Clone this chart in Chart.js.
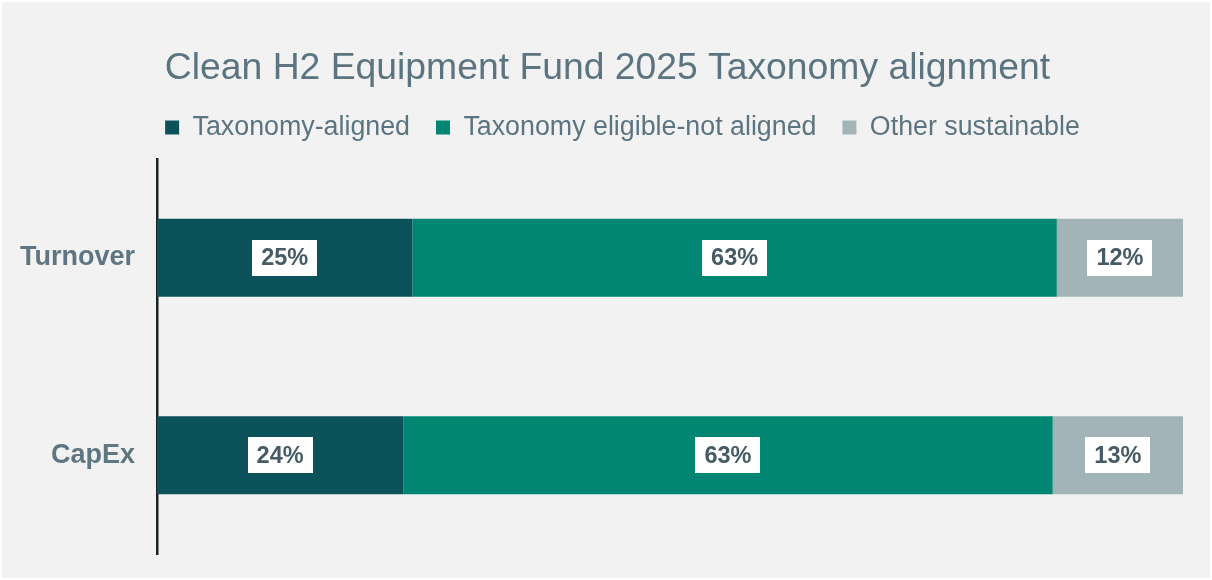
<!DOCTYPE html>
<html>
<head>
<meta charset="utf-8">
<script src="https://cdn.jsdelivr.net/npm/chart.js@4/dist/chart.umd.min.js"></script>
<style>
  html, body { margin: 0; padding: 0; background: #ffffff; }
  #wrap { position: absolute; left: 2px; top: 2px; width: 1208px; height: 576px; background: #f2f2f2; }
</style>
</head>
<body>
<div id="wrap"><canvas id="grafico" width="1208" height="576"></canvas></div>
<script>
const categorias = ["Turnover", "CapEx"];
const series = ["Taxonomy-aligned", "Taxonomy eligible-not aligned", "Other sustainable"];
const alineado = [24.9, 24.0];
const elegible = [62.8, 63.3];
const otro = [12.3, 12.7];
const colores = ["#0b525a", "#008673", "#a2b4b8"];

const textoGris = "#5b7480";

// etiquetas blancas con el porcentaje en el centro de cada tramo
const etiquetas = {
  id: "etiquetas",
  afterDatasetsDraw(chart) {
    const ctx = chart.ctx;
    ctx.save();
    ctx.font = "bold 23.5px Arial, 'Liberation Sans', sans-serif";
    ctx.textAlign = "center";
    ctx.textBaseline = "middle";
    chart.data.datasets.forEach((ds, i) => {
      chart.getDatasetMeta(i).data.forEach((bar, j) => {
        const txt = Math.round(ds.data[j]) + "%";
        const x = (bar.x + bar.base) / 2;
        const y = bar.y;
        const w = ctx.measureText(txt).width + 18;
        const h = 36;
        ctx.fillStyle = "#ffffff";
        ctx.fillRect(Math.round(x - w / 2), Math.round(y - h / 2), Math.round(w), h);
        ctx.fillStyle = "#475b67";
        ctx.fillText(txt, x, y + 1);
      });
    });
    ctx.restore();
  }
};

// ajustes de titulo y leyenda: aire debajo y corrimiento a la derecha
const ajusteLeyenda = {
  id: "ajusteLeyenda",
  beforeLayout(chart) {
    const leg = chart.legend;
    if (!leg || leg._ajustada) return;
    const fit = leg.fit;
    leg.fit = function () {
      fit.call(this);
      this.height += 8;
    };
    leg._ajustada = true;
  },
  afterLayout(chart) {
    chart.legend.left += 22;
    chart.legend.right += 22;
    chart.titleBlock.left += 7;
    chart.titleBlock.right += 7;
  }
};

new Chart(document.getElementById("grafico"), {
  type: "bar",
  data: {
    labels: categorias,
    datasets: [
      { label: series[0], data: alineado, backgroundColor: colores[0] },
      { label: series[1], data: elegible, backgroundColor: colores[1] },
      { label: series[2], data: otro, backgroundColor: colores[2] }
    ]
  },
  options: {
    indexAxis: "y",
    responsive: false,
    animation: false,
    layout: { padding: { left: 16, right: 27, top: 0, bottom: 24 } },
    datasets: {
      bar: { categoryPercentage: 1, barPercentage: 0.395, borderWidth: 0 }
    },
    scales: {
      x: { stacked: true, min: 0, max: 100, display: false },
      y: {
        stacked: true,
        grid: { display: false, drawTicks: false },
        border: { display: true, color: "#1b2226", width: 2.5 },
        ticks: {
          color: "#5f7682",
          font: { family: "Arial, 'Liberation Sans', sans-serif", size: 27, weight: "bold" },
          padding: 22
        },
        afterFit(s) {
          s.width = 139;
          s.paddingTop = 0;
          s.paddingBottom = 0;
        }
      }
    },
    plugins: {
      title: {
        display: true,
        text: "Clean H2 Equipment Fund 2025 Taxonomy alignment",
        color: textoGris,
        font: { family: "Arial, 'Liberation Sans', sans-serif", size: 37.3, weight: "normal", lineHeight: 0.81 },
        padding: { top: 52, bottom: 4 }
      },
      legend: {
        position: "top",
        labels: {
          color: textoGris,
          boxWidth: 14,
          boxHeight: 14,
          padding: 26,
          font: { family: "Arial, 'Liberation Sans', sans-serif", size: 26.8 }
        }
      },
      tooltip: { enabled: false }
    }
  },
  plugins: [etiquetas, ajusteLeyenda]
});
</script>
</body>
</html>
